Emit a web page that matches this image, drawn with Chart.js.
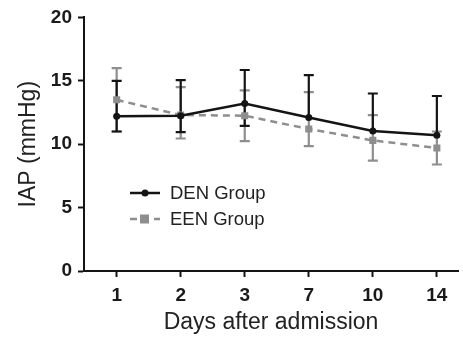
<!DOCTYPE html>
<html>
<head>
<meta charset="utf-8">
<script src="https://cdn.jsdelivr.net/npm/chart.js@4"></script>
<style>
  body { margin: 0; background: #fff; }
  #iapChart { display: block; }
</style>
</head>
<body>
<canvas id="iapChart" width="463" height="339"></canvas>
<script>
const days = ['1', '2', '3', '7', '10', '14'];
const yTicks = [0, 5, 10, 15, 20];

const denMean = [12.2, 12.25, 13.2, 12.1, 11.05, 10.7];
const denUpper = [15.0, 15.05, 15.85, 15.45, 14.0, 13.8];
const denLower = [11.0, 10.95, 11.45, 12.1, 11.05, 10.7];

const eenMean = [13.5, 12.3, 12.25, 11.2, 10.3, 9.7];
const eenUpper = [16.0, 14.5, 14.25, 14.1, 12.3, 11.0];
const eenLower = [11.0, 10.45, 10.25, 9.85, 8.7, 8.4];

const black = '#141414';
const grey = '#8e8e8e';

function toPoints(values) {
    return values.map((v, i) => ({ x: i, y: v }));
}

// vertical error bars with caps, grey first so black sits on top
const errorBars = {
    id: 'errorBars',
    beforeDatasetsDraw(chart) {
        const ctx = chart.ctx;
        const xs = chart.scales.x;
        const ys = chart.scales.y;
        [1, 0].forEach(di => {
            const ds = chart.data.datasets[di];
            ctx.save();
            ctx.strokeStyle = ds.borderColor;
            ctx.lineWidth = 2.2;
            ds.errUpper.forEach((up, i) => {
                const x = xs.getPixelForValue(i);
                const y1 = ys.getPixelForValue(up);
                const y2 = ys.getPixelForValue(ds.errLower[i]);
                ctx.beginPath();
                ctx.moveTo(x, y1);
                ctx.lineTo(x, y2);
                ctx.moveTo(x - 5, y1);
                ctx.lineTo(x + 5, y1);
                if (y2 - ys.getPixelForValue(ds.data[i].y) > 0.5) {
                    ctx.moveTo(x - 5, y2);
                    ctx.lineTo(x + 5, y2);
                }
                ctx.stroke();
            });
            ctx.restore();
        });
    }
};

// legend drawn inside the plot area
const innerLegend = {
    id: 'innerLegend',
    afterDraw(chart) {
        const ctx = chart.ctx;
        const rows = [193, 219];
        chart.data.datasets.forEach((ds, i) => {
            const y = rows[i];
            ctx.save();
            ctx.strokeStyle = ds.borderColor;
            ctx.lineWidth = 2.5;
            ctx.setLineDash(ds.borderDash || []);
            ctx.beginPath();
            ctx.moveTo(130, y);
            ctx.lineTo(160, y);
            ctx.stroke();
            ctx.setLineDash([]);
            ctx.fillStyle = ds.borderColor;
            if (ds.pointStyle === 'rect') {
                ctx.fillRect(140, y - 4.5, 9, 9);
            } else {
                ctx.beginPath();
                ctx.arc(145, y, 3.5, 0, Math.PI * 2);
                ctx.fill();
            }
            ctx.fillStyle = '#222';
            ctx.font = '18.5px "Liberation Sans", Arial, sans-serif';
            ctx.textBaseline = 'middle';
            ctx.fillText(ds.label, 170, y + 1);
            ctx.restore();
        });
    }
};

const ctx = document.getElementById('iapChart').getContext('2d');

new Chart(ctx, {
    type: 'line',
    data: {
        datasets: [{
            label: 'DEN Group',
            data: toPoints(denMean),
            errUpper: denUpper,
            errLower: denLower,
            borderColor: black,
            backgroundColor: black,
            borderWidth: 2.5,
            pointStyle: 'circle',
            pointRadius: 3.5,
            pointBackgroundColor: black,
            pointBorderWidth: 0,
            tension: 0
        }, {
            label: 'EEN Group',
            data: toPoints(eenMean),
            errUpper: eenUpper,
            errLower: eenLower,
            borderColor: grey,
            backgroundColor: grey,
            borderWidth: 2.5,
            borderDash: [7, 5],
            pointStyle: 'rect',
            pointRadius: 5,
            pointBackgroundColor: grey,
            pointBorderWidth: 0,
            tension: 0
        }]
    },
    options: {
        responsive: false,
        animation: false,
        layout: {
            padding: { top: 15, right: 3, bottom: 0, left: 0 }
        },
        plugins: {
            legend: { display: false },
            tooltip: { enabled: false }
        },
        scales: {
            x: {
                type: 'linear',
                min: -0.51,
                max: 5.33,
                afterFit: function (scale) { scale.height = 68; },
                afterBuildTicks: function (scale) {
                    scale.ticks = days.map((d, i) => ({ value: i }));
                },
                grid: {
                    drawOnChartArea: false,
                    tickLength: 6,
                    tickWidth: 2,
                    tickColor: black
                },
                border: { color: black, width: 2 },
                ticks: {
                    padding: 7,
                    maxRotation: 0,
                    color: '#1a1a1a',
                    font: { family: '"Liberation Sans", Arial, sans-serif', size: 19, weight: 'bold' },
                    callback: function (value) { return days[value]; }
                },
                title: {
                    display: true,
                    text: 'Days after admission',
                    color: '#222',
                    padding: { top: 0, bottom: 3 },
                    font: { family: '"Liberation Sans", Arial, sans-serif', size: 23 }
                }
            },
            y: {
                min: 0,
                max: 20,
                afterFit: function (scale) { scale.width = 84; },
                afterBuildTicks: function (scale) {
                    scale.ticks = yTicks.map(v => ({ value: v }));
                },
                grid: {
                    drawOnChartArea: false,
                    tickLength: 6,
                    tickWidth: 2,
                    tickColor: black
                },
                border: { color: black, width: 2 },
                ticks: {
                    padding: 6,
                    color: '#1a1a1a',
                    font: { family: '"Liberation Sans", Arial, sans-serif', size: 19, weight: 'bold' }
                },
                title: {
                    display: true,
                    text: 'IAP (mmHg)',
                    color: '#222',
                    padding: { top: 15, bottom: 0 },
                    font: { family: '"Liberation Sans", Arial, sans-serif', size: 23 }
                }
            }
        }
    },
    plugins: [errorBars, innerLegend]
});
</script>
</body>
</html>
